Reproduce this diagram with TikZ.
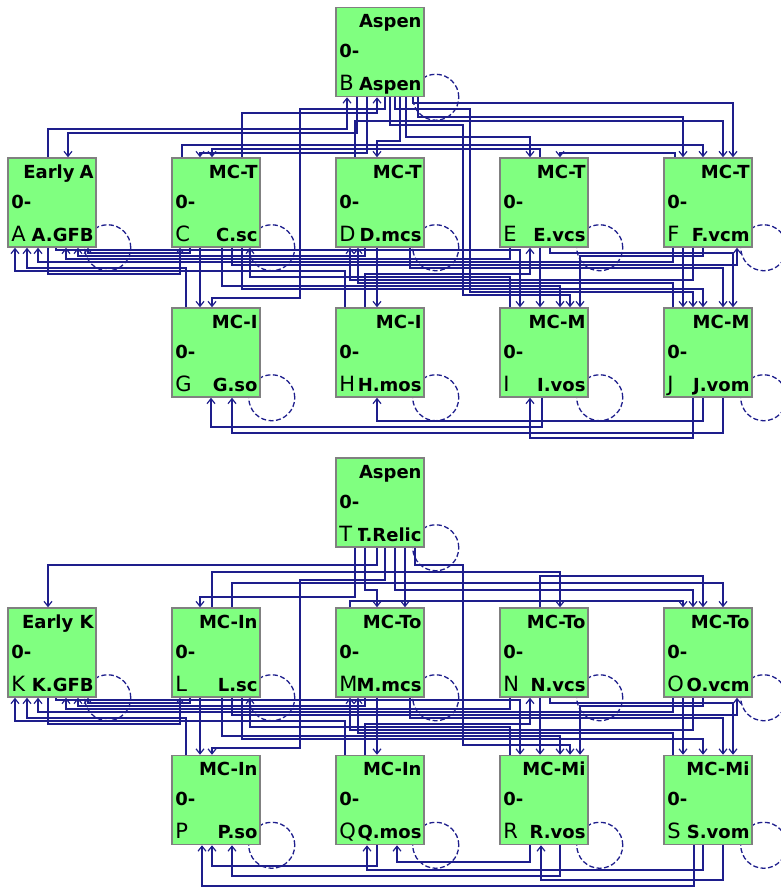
\documentclass[tikz,border=0pt]{standalone}
\usepackage{fontspec}
\setmainfont{DejaVu Sans}
\usetikzlibrary{arrows.meta,calc}
\pgfdeclarelayer{bg}
\pgfsetlayers{bg,main}
\definecolor{wirec}{RGB}{30,30,140}
\definecolor{boxfill}{RGB}{128,255,128}
\definecolor{boxline}{RGB}{128,128,128}

\tikzset{
  box/.style={draw=boxline, fill=boxfill, line width=1.5pt,
    minimum width=88pt, minimum height=89pt, inner sep=0pt},
  ttl/.style={font=\bfseries\fontsize{18}{18}\selectfont, inner sep=0pt},
  ltr/.style={font=\fontsize{21}{21}\selectfont, inner sep=0pt},
  wire/.style={draw=wirec, line width=1.2pt,
    -{Straight Barb[length=5pt,width=8pt]}},
  selfloop/.style={draw=wirec, line width=1.3pt, dash pattern=on 5pt off 2.5pt},
}

% state box: name, centre x, centre y, title, letter, label
\newcommand\statebox[6]{%
  \node[box] (#1) at (#2,#3) {};
  \node[ttl,anchor=base east] (#1-t) at ($(#1.north east)+(-3,21)$) {#4};
  \node[ttl,anchor=base west] (#1-z) at ($(#1.north west)+(4,51)$) {0-};
  \node[ltr,anchor=base west] (#1-l) at ($(#1.north west)+(4,84)$) {#5};
  \begin{scope}
    \clip ($(#1.north west)+(23,60)$) rectangle (#1.south east);
    \node[ttl,anchor=base east] (#1-r) at ($(#1.north east)+(-3,84)$) {#6};
  \end{scope}}

% orthogonal connector: source, side, x, channel y, target, side, x
\newcommand\wire[7]{%
  \draw[wire] (#1.#2 -| #3,0) -- (#3,#4) -- (#7,#4) -- (#5.#6 -| #7,0);}

% connector with a second channel: source, x, y1, via x, y2, target, x
\newcommand\wirevia[7]{%
  \draw[wire] (#1.south -| #2,0) -- (#2,#3) -- (#4,#3) -- (#4,#5)
    -- (#7,#5) -- (#6.north -| #7,0);}

\begin{document}
\begin{tikzpicture}[x=1pt,y=-1pt]
\useasboundingbox (0,0) rectangle (780,890);

% ---------- upper model ----------
\statebox{B}{380}{52}{Aspen}{B}{Aspen}
\statebox{A}{52}{202.5}{Early\hspace{5pt}A}{A}{A.GFB}
\statebox{C}{216}{202.5}{MC-T}{C}{C.sc}
\statebox{D}{380}{202.5}{MC-T}{D}{D.mcs}
\statebox{E}{544}{202.5}{MC-T}{E}{E.vcs}
\statebox{F}{708}{202.5}{MC-T}{F}{F.vcm}
\statebox{G}{216}{352.5}{MC-I}{G}{G.so}
\statebox{H}{380}{352.5}{MC-I}{H}{H.mos}
\statebox{I}{544}{352.5}{MC-M}{I}{I.vos}
\statebox{J}{708}{352.5}{MC-M}{J}{J.vom}

% ---------- lower model ----------
\statebox{T}{380}{502.5}{Aspen}{T}{T.Relic}
\statebox{K}{52}{652.5}{Early K}{K}{K.GFB}
\statebox{L}{216}{652.5}{MC-In}{L}{L.sc}
\statebox{M}{380}{652.5}{MC-To}{M}{M.mcs}
\statebox{N}{544}{652.5}{MC-To}{N}{N.vcs}
\statebox{O}{708}{652.5}{MC-To}{O}{O.vcm}
\statebox{P}{216}{800}{MC-In}{P}{P.so}
\statebox{Q}{380}{800}{MC-In}{Q}{Q.mos}
\statebox{R}{544}{800}{MC-Mi}{R}{R.vos}
\statebox{S}{708}{800}{MC-Mi}{S}{S.vom}

% self loops behind the boxes
\begin{pgfonlayer}{bg}
\foreach \n in {B,A,C,D,E,F,G,H,I,J,T,K,L,M,N,O,P,Q,R,S}
  \draw[selfloop] ($(\n.south east)+(11,0)$) circle[radius=23pt];
\end{pgfonlayer}

% ---------- upper model: channel below Aspen ----------
\wire{A}{north}{48}{129}{B}{south}{347}
\wire{B}{south}{357}{133}{A}{north}{68}
\wire{B}{south}{367}{153}{C}{north}{200}
\wire{C}{north}{242}{113}{B}{south}{377}
\wire{B}{south}{400}{141}{D}{north}{377}
\wire{B}{south}{406}{137}{E}{north}{530}
\wire{B}{south}{413}{103}{F}{north}{733}
\wire{B}{south}{418}{117}{F}{north}{683}
\wire{D}{north}{355}{121}{F}{north}{723}
\wire{C}{north}{182}{145}{F}{north}{703}
\wire{E}{north}{540}{149}{C}{north}{212}
\wire{F}{north}{675}{153}{E}{north}{560}
\wirevia{B}{390}{125}{463}{295}{I}{570}
\wirevia{B}{395}{109}{470}{292}{J}{693}
\wirevia{B}{385}{109}{300}{298}{G}{212}

% ---------- upper model: channel between rows ----------
\wire{A}{south}{56}{250}{I}{north}{520}
\wire{C}{south}{190}{253}{A}{south}{88}
\wire{E}{south}{550}{253}{J}{north}{733}
\wire{D}{south}{365}{256}{A}{south}{78}
\wire{F}{south}{703}{256}{I}{north}{580}
\wire{E}{south}{510}{259}{A}{south}{66}
\wire{F}{south}{673}{262}{A}{south}{38}
\wire{C}{south}{232}{265}{F}{south}{737}
\wire{G}{north}{186}{268}{A}{south}{27}
\wire{D}{south}{410}{268}{J}{north}{723}
\wire{H}{north}{345}{271}{A}{south}{15}
\wire{A}{south}{48}{274}{C}{south}{180}
\wire{H}{north}{365}{274}{E}{south}{530}
\wire{I}{north}{510}{277}{C}{south}{250}
\wire{F}{south}{693}{280}{D}{south}{350}
\wire{J}{north}{673}{283}{D}{south}{358}
\wire{C}{south}{222}{286}{I}{north}{560}
\wire{C}{south}{242}{289}{J}{north}{703}
\wire{C}{south}{200}{300}{G}{north}{200}
\wire{D}{south}{377}{300}{H}{north}{377}
\wire{E}{south}{540}{300}{I}{north}{540}
\wire{F}{south}{683}{300}{J}{north}{683}

% ---------- upper model: below the second row ----------
\wire{J}{south}{703}{421}{H}{south}{377}
\wire{I}{south}{542}{427}{G}{south}{211}
\wire{J}{south}{723}{433}{G}{south}{232}
\wire{J}{south}{693}{438}{I}{south}{530}

% ---------- lower model: channel below Aspen ----------
\wire{T}{south}{377}{565}{K}{north}{48}
\wire{L}{north}{212}{572}{N}{north}{560}
\wire{N}{north}{540}{576}{O}{north}{703}
\wire{L}{north}{232}{583}{O}{north}{723}
\wire{T}{south}{365}{590}{M}{north}{377}
\wire{T}{south}{395}{590}{O}{north}{693}
\wire{T}{south}{355}{597}{L}{north}{200}
\wire{M}{north}{350}{601}{O}{north}{683}
\wire{T}{south}{405}{600}{M}{north}{405}
\wirevia{T}{415}{565}{463}{745}{R}{570}
\wirevia{T}{385}{580}{300}{748}{P}{212}

% ---------- lower model: channel between rows ----------
\wire{K}{south}{56}{700}{R}{north}{520}
\wire{L}{south}{190}{703}{K}{south}{88}
\wire{N}{south}{550}{703}{S}{north}{733}
\wire{M}{south}{365}{706}{K}{south}{78}
\wire{O}{south}{703}{706}{R}{north}{580}
\wire{N}{south}{510}{709}{K}{south}{66}
\wire{O}{south}{673}{712}{K}{south}{38}
\wire{L}{south}{232}{715}{O}{south}{737}
\wire{P}{north}{186}{718}{K}{south}{27}
\wire{M}{south}{410}{718}{S}{north}{723}
\wire{Q}{north}{345}{721}{K}{south}{15}
\wire{K}{south}{48}{724}{L}{south}{180}
\wire{Q}{north}{365}{724}{N}{south}{530}
\wire{R}{north}{510}{727}{L}{south}{250}
\wire{O}{south}{693}{730}{M}{south}{350}
\wire{S}{north}{673}{733}{M}{south}{358}
\wire{L}{south}{222}{736}{R}{north}{560}
\wire{L}{south}{242}{739}{S}{north}{703}
\wire{L}{south}{200}{750}{P}{north}{200}
\wire{M}{south}{377}{750}{Q}{north}{377}
\wire{N}{south}{540}{750}{R}{north}{540}
\wire{O}{south}{683}{750}{S}{north}{683}

% ---------- lower model: below the second row ----------
\wire{R}{south}{530}{862}{Q}{south}{397}
\wire{Q}{south}{377}{866}{P}{south}{212}
\wire{S}{south}{703}{870}{Q}{south}{367}
\wire{R}{south}{560}{876}{P}{south}{232}
\wire{S}{south}{723}{880}{R}{south}{541}
\wire{S}{south}{694}{886}{P}{south}{202}
\end{tikzpicture}
\end{document}
